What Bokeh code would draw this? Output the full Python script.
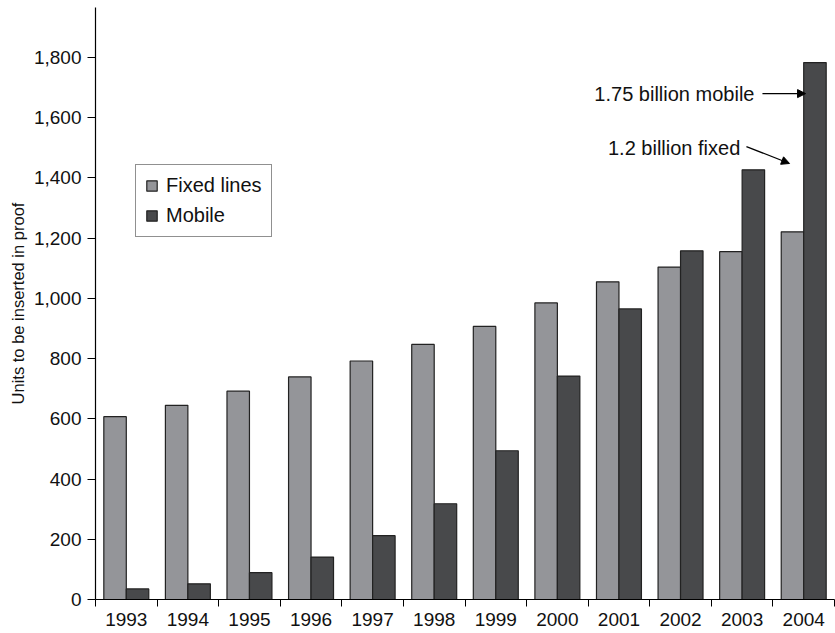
from bokeh.plotting import figure
from bokeh.models import (Range1d, FixedTicker, NumeralTickFormatter, Legend,
                          LegendItem, Label, Arrow, NormalHead, ColumnDataSource,
                          Title)
from bokeh.embed import file_html
from bokeh.resources import INLINE

# Worldwide subscribers (millions)
years = ["1993", "1994", "1995", "1996", "1997", "1998",
         "1999", "2000", "2001", "2002", "2003", "2004"]
fixed_lines = [607, 645, 692, 739, 792, 847, 907, 985, 1055, 1104, 1155, 1221]
mobile = [35, 52, 89, 141, 212, 318, 494, 742, 965, 1158, 1427, 1783]

y_ticks = [0, 200, 400, 600, 800, 1000, 1200, 1400, 1600, 1800]

FONT = "Liberation Sans"
TEXT_COLOR = "#111111"
FIXED_COLOR = "#949599"
MOBILE_COLOR = "#48494b"
EDGE = "#222222"

n = len(years)
centers = [i + 0.5 for i in range(n)]
bw = 0.365

p = figure(width=835, height=633, output_backend="svg", toolbar_location=None,
           x_range=Range1d(0, n), y_range=Range1d(0, 1966),
           min_border_left=95, min_border_right=1, min_border_top=7,
           min_border_bottom=34)
p.outline_line_color = None
p.xgrid.grid_line_color = None
p.ygrid.grid_line_color = None

src_f = ColumnDataSource(dict(x=[c - bw / 2 for c in centers], top=fixed_lines))
src_m = ColumnDataSource(dict(x=[c + bw / 2 for c in centers], top=mobile))
rf = p.vbar(x="x", top="top", width=bw, source=src_f, fill_color=FIXED_COLOR,
            line_color=EDGE, line_width=1.2)
rm = p.vbar(x="x", top="top", width=bw, source=src_m, fill_color=MOBILE_COLOR,
            line_color=EDGE, line_width=1.2)

# x axis: labels at category centres, tick marks at category boundaries
xa = p.xaxis[0]
xa.ticker = FixedTicker(ticks=centers, minor_ticks=list(range(n + 1)))
xa.major_label_overrides = {c: y for c, y in zip(centers, years)}
xa.major_tick_out = 0
xa.major_tick_in = 0
xa.minor_tick_out = 7
xa.minor_tick_in = 0
xa.minor_tick_line_color = "black"
xa.axis_line_color = "black"
xa.axis_line_width = 1.2
xa.major_label_text_font = FONT
xa.major_label_text_font_size = "19px"
xa.major_label_text_color = TEXT_COLOR
xa.major_label_standoff = 6

ya = p.yaxis[0]
ya.ticker = FixedTicker(ticks=y_ticks)
ya.formatter = NumeralTickFormatter(format="0,0")
ya.major_tick_out = 8
ya.major_tick_in = 0
ya.minor_tick_line_color = None
ya.axis_line_color = "black"
ya.axis_line_width = 1.2
ya.major_label_text_font = FONT
ya.major_label_text_font_size = "19px"
ya.major_label_text_color = TEXT_COLOR
ya.major_label_standoff = 6

# y axis title, placed a little above the frame's middle
p.add_layout(Title(text="Units to be inserted in proof", align="center", offset=28,
                   text_font=FONT, text_font_size="16.5px", text_font_style="normal",
                   text_color=TEXT_COLOR, standoff=7), "left")

legend = Legend(items=[LegendItem(label="Fixed lines", renderers=[rf]),
                       LegendItem(label="Mobile", renderers=[rm])],
                location=(40, 362))
legend.label_text_font = FONT
legend.label_text_font_size = "20px"
legend.label_text_color = TEXT_COLOR
legend.border_line_color = "#222222"
legend.border_line_width = 1
legend.background_fill_alpha = 1
legend.glyph_width = 13
legend.glyph_height = 13
legend.label_standoff = 8
legend.spacing = 7
legend.padding = 9
legend.margin = 0
legend.label_height = 20
p.add_layout(legend, "center")

# Annotations for the 2004 values
p.add_layout(Label(x=10.70, y=1680, text="1.75 billion mobile", text_align="right",
                   text_baseline="middle", text_font=FONT, text_font_size="20px",
                   text_color=TEXT_COLOR))
p.add_layout(Arrow(x_start=10.83, y_start=1680, x_end=11.53, y_end=1680,
                   line_width=1.2, line_color="black",
                   end=NormalHead(size=8, fill_color="black", line_color="black")))
p.add_layout(Label(x=10.47, y=1501, text="1.2 billion fixed", text_align="right",
                   text_baseline="middle", text_font=FONT, text_font_size="20px",
                   text_color=TEXT_COLOR))
p.add_layout(Arrow(x_start=10.57, y_start=1504, x_end=11.27, y_end=1448,
                   line_width=1.2, line_color="black",
                   end=NormalHead(size=8, fill_color="black", line_color="black")))

open("out.html", "w").write(file_html(p, INLINE))
